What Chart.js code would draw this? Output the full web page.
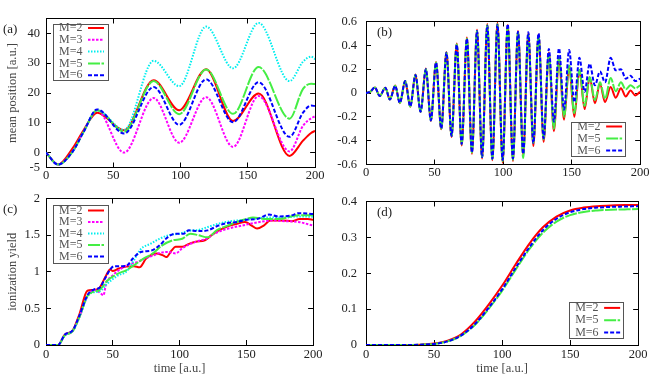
<!DOCTYPE html>
<html>
<head>
<meta charset="utf-8">
<script src="https://cdn.jsdelivr.net/npm/chart.js@4.4.1/dist/chart.umd.min.js"></script>
<style>
  body { margin: 0; background: #fff; overflow: hidden; }
  #wrap { position: relative; width: 655px; height: 374px; }
  canvas { position: absolute; }
</style>
</head>
<body>
<div id="wrap">
  <canvas id="panelA" width="330" height="186" style="left:0;top:0"></canvas>
  <canvas id="panelB" width="325" height="186" style="left:330px;top:0"></canvas>
  <canvas id="panelC" width="330" height="200" style="left:0;top:180px"></canvas>
  <canvas id="panelD" width="325" height="200" style="left:330px;top:180px"></canvas>
</div>
<script>
const SERIF = "'Liberation Serif', 'DejaVu Serif', serif";

// tick values
const timeTicks = [0, 50, 100, 150, 200];
const posTicks = [-5, 0, 10, 20, 30, 40];
const dipTicks = [-0.6, -0.4, -0.2, 0, 0.2, 0.4, 0.6];
const ionTicks = [0, 0.5, 1, 1.5, 2];
const probTicks = [0, 0.1, 0.2, 0.3, 0.4];

// (a) mean position, read at the turning points
const posTime = [0, 9, 20, 28, 38, 58, 80, 99, 119, 139, 158, 181, 191, 197, 200];
const posM2 = [0, -4, 1.6, 7.6, 13.4, 7.5, 24.3, 14.2, 28, 10.6, 19.8, -1.1, 4.0, 6.6, 7.3];
const posM3 = [0, -4, 0.5, 7.0, 14.2, 0, 18.3, 3.3, 18.6, 1.9, 19, 0.4, 9, 11.5, 12.2];
const posM4 = [0, -4, 0.5, 7.0, 14.2, 7.6, 30.8, 22.3, 42.3, 28.3, 43.5, 24, 30.5, 32.2, 31.4];
const posM5 = [0, -4, 0.5, 7.0, 14.2, 7.0, 24, 12.9, 27.9, 13, 28.7, 11.4, 21.4, 23.1, 23];
const posM6 = [0, -4, 0.5, 7.0, 14.5, 6.4, 22, 9.3, 24.6, 10.2, 23.6, 5.3, 13.4, 15.8, 15.6];

// (b) dipole, peaks and troughs
const dipTime = [0, 3, 6.5, 10, 14.1, 17.4, 21.3, 24.7, 28.6, 32.3, 36.1, 39.8, 43.7, 47.3, 51.1, 54.9,
  58.7, 62.4, 66.2, 69.8, 73.6, 77.3, 81, 84.7, 88.5, 92.2, 95.9, 99.7, 103.4, 107.2, 110.9, 114.7,
  118.4, 122.1, 125.9, 129.6, 133.4, 137.1, 140.8, 144.5, 148.2, 152, 155.7, 159.5, 163.2, 167, 170.7,
  174.4, 178.5, 182.2, 186, 189.5, 193, 196.5, 200];
const dipM2 = [0, 0.01, 0.046, -0.025, 0.045, -0.055, 0.062, -0.085, 0.1, -0.115, 0.155, -0.16, 0.205, -0.235, 0.26, -0.305,
  0.345, -0.37, 0.415, -0.44, 0.465, -0.51, 0.53, -0.55, 0.58, -0.565, 0.59, -0.585, 0.57, -0.57, 0.52, -0.52,
  0.5, -0.445, 0.49, -0.41, 0.34, -0.32, 0.29, -0.225, 0.22, -0.2, 0.19, -0.135, 0.13, -0.085, 0.075,
  -0.075, 0.05, -0.04, 0.04, -0.03, 0.02, -0.02, 0.01];
const dipM5 = [0, 0.01, 0.046, -0.025, 0.045, -0.055, 0.06, -0.083, 0.1, -0.113, 0.153, -0.158, 0.2, -0.23, 0.255, -0.3,
  0.34, -0.362, 0.41, -0.43, 0.457, -0.5, 0.522, -0.54, 0.57, -0.555, 0.578, -0.572, 0.565, -0.56, 0.51, -0.545,
  0.49, -0.42, 0.48, -0.39, 0.33, -0.3, 0.3, -0.2, 0.23, -0.17, 0.195, -0.11, 0.135, -0.06, 0.09,
  -0.05, 0.125, 0.015, 0.09, 0.03, 0.065, 0.04, 0.065];
const dipM6 = [0, 0.01, 0.046, -0.025, 0.045, -0.055, 0.06, -0.083, 0.1, -0.112, 0.152, -0.157, 0.2, -0.23, 0.255, -0.298,
  0.338, -0.36, 0.405, -0.428, 0.455, -0.498, 0.52, -0.538, 0.565, -0.552, 0.572, -0.562, 0.578, -0.55, 0.515, -0.51,
  0.51, -0.42, 0.5, -0.38, 0.37, -0.24, 0.375, -0.14, 0.36, -0.077, 0.295, 0.01, 0.245, 0.065, 0.18,
  0.09, 0.295, 0.19, 0.2, 0.12, 0.145, 0.1, 0.12];

// (c) ionization yield, each run read at its own times
const ionTimeM2 = [0, 9, 14, 20, 25, 31, 35, 40, 45, 48, 50, 54, 60, 66, 70, 75, 83, 88, 90, 94, 97, 102, 107, 112,
  119, 124, 129, 136, 143, 149, 154, 158, 163, 168, 177, 184, 190, 196, 200];
const ionM2 = [0, 0, 0.14, 0.2, 0.42, 0.74, 0.75, 0.78, 0.95, 1.03, 1.01, 1.04, 1.07, 1.075, 1.06, 1.18, 1.25, 1.22, 1.2, 1.29, 1.34, 1.34, 1.38, 1.41,
  1.43, 1.5, 1.56, 1.62, 1.655, 1.68, 1.63, 1.59, 1.63, 1.7, 1.7, 1.69, 1.72, 1.72, 1.71];
const ionTimeM3 = [0, 9, 14, 20, 25, 31, 36, 40, 43, 45, 50, 56, 62, 68, 74, 80, 86, 92, 97, 102, 108, 114, 120, 126,
  133, 141, 147, 153, 160, 170, 179, 189, 200];
const ionM3 = [0, 0, 0.13, 0.19, 0.38, 0.66, 0.75, 0.72, 0.68, 0.84, 0.95, 1.04, 1.1, 1.13, 1.18, 1.22, 1.26, 1.27, 1.25, 1.32, 1.38, 1.42, 1.45, 1.52,
  1.57, 1.61, 1.63, 1.655, 1.68, 1.7, 1.69, 1.68, 1.63];
const ionTimeM4 = [0, 9, 14, 20, 25, 31, 36, 40, 46, 54, 60, 65, 71, 78, 85, 92, 100, 107, 114, 121, 129, 138, 150, 165,
  177, 189, 200];
const ionM4 = [0, 0, 0.13, 0.19, 0.38, 0.66, 0.72, 0.73, 0.84, 0.95, 1.0, 1.13, 1.31, 1.38, 1.45, 1.5, 1.52, 1.56, 1.57, 1.61, 1.655, 1.69, 1.71, 1.74,
  1.74, 1.755, 1.75];
const ionTimeM5 = [0, 9, 14, 20, 25, 31, 36, 40, 46, 54, 60, 66, 73, 80, 87, 95, 102, 108, 114, 121, 128, 136, 143, 150,
  155, 165, 174, 189, 200];
const ionM5 = [0, 0, 0.13, 0.19, 0.38, 0.67, 0.73, 0.75, 0.88, 0.975, 1.02, 1.09, 1.18, 1.25, 1.36, 1.43, 1.45, 1.52, 1.5, 1.47, 1.57, 1.63, 1.68, 1.72,
  1.74, 1.72, 1.72, 1.77, 1.77];
const ionTimeM6 = [0, 9, 14, 20, 25, 31, 36, 40, 44, 48, 51, 57, 61, 65, 71, 79, 85, 91, 97, 103, 107, 114, 121, 129,
  136, 143, 150, 158, 167, 174, 184, 189, 200];
const ionM6 = [0, 0, 0.14, 0.2, 0.4, 0.68, 0.76, 0.78, 0.9, 1.03, 1.075, 1.075, 1.09, 1.18, 1.27, 1.29, 1.36, 1.47, 1.52, 1.52, 1.565, 1.555, 1.565, 1.63,
  1.665, 1.68, 1.71, 1.72, 1.78, 1.755, 1.77, 1.8, 1.79];

// (d)
const probTime = [0, 10, 20, 30, 40, 50, 60, 70, 80, 90, 100, 110, 120, 130, 140, 150, 160, 170, 180, 190, 200];
const probM2 = [0, 0, 0, 0, 0.001, 0.004, 0.012, 0.03, 0.065, 0.112, 0.165, 0.225, 0.282, 0.328, 0.358, 0.375, 0.383, 0.387, 0.389, 0.39, 0.39];
const probM5 = [0, 0, 0, 0, 0.001, 0.003, 0.01, 0.026, 0.056, 0.1, 0.151, 0.21, 0.267, 0.313, 0.344, 0.362, 0.371, 0.375, 0.377, 0.378, 0.379];
const probM6 = [0, 0, 0, 0, 0.001, 0.003, 0.01, 0.027, 0.058, 0.103, 0.155, 0.215, 0.272, 0.32, 0.352, 0.37, 0.379, 0.383, 0.385, 0.386, 0.387];

const styles = {
  'M=2': { color: '#ff0000', dash: [], order: 0 },
  'M=3': { color: '#ff00ff', dash: [2.5, 1.5], order: -1 },
  'M=4': { color: '#00eeee', dash: [1.5, 1.5], order: -2 },
  'M=5': { color: '#44ee44', dash: [12, 1.5], order: -3 },
  'M=6': { color: '#0000ff', dash: [4, 2], order: -4 }
};

function series(name, ts, vs) {
  const s = styles[name];
  return {
    label: name,
    data: ts.map((t, i) => ({ x: t, y: vs[i] })),
    borderColor: s.color,
    borderDash: s.dash,
    borderWidth: 2,
    pointRadius: 0,
    fill: false,
    cubicInterpolationMode: 'monotone',
    order: s.order,
    xAxisID: 'x',
    yAxisID: 'y'
  };
}

// legend drawn inside the frame, text left and sample right
const boxLegend = {
  id: 'boxLegend',
  afterDatasetsDraw(chart, args, o) {
    const ctx = chart.ctx, a = chart.chartArea, sets = chart.data.datasets;
    const h = o.pad * 2 + (sets.length - 1) * o.row;
    const x = o.right != null ? a.right - o.right - o.width : a.left + o.left;
    const y = o.bottom != null ? a.bottom - o.bottom - h : a.top + o.top;
    ctx.save();
    ctx.fillStyle = '#fff';
    ctx.fillRect(x, y, o.width, h);
    ctx.strokeStyle = '#555';
    ctx.lineWidth = 1;
    ctx.strokeRect(Math.round(x) + 0.5, Math.round(y) + 0.5, o.width, Math.round(h));
    ctx.font = '12px ' + SERIF;
    ctx.textBaseline = 'middle';
    sets.forEach((d, i) => {
      const cy = y + o.pad + i * o.row;
      ctx.fillStyle = '#555';
      ctx.fillText(d.label, x + 6, cy);
      ctx.strokeStyle = d.borderColor;
      ctx.lineWidth = 2;
      ctx.setLineDash(d.borderDash);
      ctx.beginPath();
      ctx.moveTo(x + 35, cy);
      ctx.lineTo(x + 51, cy);
      ctx.stroke();
      ctx.setLineDash([]);
    });
    ctx.restore();
  }
};

const panelTag = {
  id: 'panelTag',
  afterDraw(chart, args, o) {
    const ctx = chart.ctx, a = chart.chartArea;
    ctx.save();
    ctx.font = '13px ' + SERIF;
    ctx.fillStyle = '#222';
    ctx.textBaseline = 'middle';
    ctx.fillText(o.text, o.x != null ? o.x : a.left + o.inset, a.top + 11);
    ctx.restore();
  }
};

function frame(p) {
  const setTicks = list => s => { s.ticks = list.map(v => ({ value: v })); };
  const grid = () => ({ drawOnChartArea: false, tickLength: -5, color: '#000', lineWidth: 1 });
  const border = () => ({ color: '#000', width: 1 });
  const tickFont = { family: SERIF, size: 12.5 };
  return {
    x: {
      type: 'linear', position: 'bottom', min: 0, max: 200,
      grid: grid(), border: border(),
      afterBuildTicks: setTicks(timeTicks),
      afterFit: s => { s.height = p.xHeight; },
      ticks: { font: tickFont, color: '#222', padding: p.xPad, maxRotation: 0, autoSkip: false, callback: v => String(v) },
      title: { display: !!p.xTitle, text: p.xTitle || '', font: { family: SERIF, size: 12.5 }, color: '#444', padding: { top: 0, bottom: 3.5 } }
    },
    x2: {
      type: 'linear', position: 'top', min: 0, max: 200,
      grid: grid(), border: border(),
      afterBuildTicks: setTicks(timeTicks),
      afterFit: s => { s.height = 0; },
      ticks: { display: false }
    },
    y: {
      type: 'linear', position: 'left', min: p.yMin, max: p.yMax,
      grid: grid(), border: border(),
      afterBuildTicks: setTicks(p.yTicks),
      afterFit: s => { s.width = p.yWidth; },
      ticks: { font: tickFont, color: '#222', padding: p.yPad, autoSkip: false, callback: p.yFmt },
      title: { display: !!p.yTitle, text: p.yTitle || '', font: { family: SERIF, size: 12.5 }, color: '#444', padding: { top: 5.5, bottom: 0 } }
    },
    y2: {
      type: 'linear', position: 'right', min: p.yMin, max: p.yMax,
      grid: grid(), border: border(),
      afterBuildTicks: setTicks(p.yTicks),
      afterFit: s => { s.width = 0; },
      ticks: { display: false }
    }
  };
}

function panel(id, datasets, p) {
  new Chart(document.getElementById(id), {
    type: 'line',
    data: { datasets },
    options: {
      responsive: false,
      animation: false,
      devicePixelRatio: 1,
      layout: { padding: { left: 0, right: p.right, top: p.top, bottom: 0 } },
      scales: frame(p),
      plugins: {
        legend: { display: false },
        tooltip: { enabled: false },
        boxLegend: p.legend,
        panelTag: p.tag
      }
    },
    plugins: [boxLegend, panelTag]
  });
}

const plain = v => String(v);

panel('panelA', [
  series('M=2', posTime, posM2),
  series('M=3', posTime, posM3),
  series('M=4', posTime, posM4),
  series('M=5', posTime, posM5),
  series('M=6', posTime, posM6)
], {
  right: 8, top: 12, xHeight: 18, xPad: 5.5, yWidth: 46, yPad: 11,
  yMin: -5, yMax: 45, yTicks: posTicks, yFmt: plain, yTitle: 'mean position [a.u.]',
  legend: { left: 7, top: 5, width: 55, pad: 4.5, row: 11.8 },
  tag: { text: '(a)', x: 3 }
});

panel('panelB', [
  series('M=2', dipTime, dipM2),
  series('M=5', dipTime, dipM5),
  series('M=6', dipTime, dipM6)
], {
  right: 11, top: 12, xHeight: 18, xPad: 5.5, yWidth: 36, yPad: 14,
  yMin: -0.6, yMax: 0.6, yTicks: dipTicks, yFmt: v => (Math.abs(v) < 1e-9 ? '0' : v.toFixed(1)),
  legend: { right: 15, bottom: 9, width: 54, pad: 5, row: 12 },
  tag: { text: '(b)', inset: 11 }
});

panel('panelC', [
  series('M=2', ionTimeM2, ionM2),
  series('M=3', ionTimeM3, ionM3),
  series('M=4', ionTimeM4, ionM4),
  series('M=5', ionTimeM5, ionM5),
  series('M=6', ionTimeM6, ionM6)
], {
  right: 8, top: 18, xHeight: 35, xPad: 7.5, yWidth: 46, yPad: 11,
  yMin: 0, yMax: 2, yTicks: ionTicks, yFmt: plain, yTitle: 'ionization yield', xTitle: 'time [a.u.]',
  legend: { left: 7, top: 6, width: 55, pad: 6, row: 11.5 },
  tag: { text: '(c)', x: 3 }
});

panel('panelD', [
  series('M=2', probTime, probM2),
  series('M=5', probTime, probM5),
  series('M=6', probTime, probM6)
], {
  right: 11, top: 18, xHeight: 35, xPad: 7.5, yWidth: 36, yPad: 14,
  yMin: 0, yMax: 0.4, yTicks: probTicks, yFmt: plain, xTitle: 'time [a.u.]',
  legend: { right: 15, bottom: 7, width: 54, pad: 5.5, row: 12.3 },
  tag: { text: '(d)', inset: 11 }
});
</script>
</body>
</html>
